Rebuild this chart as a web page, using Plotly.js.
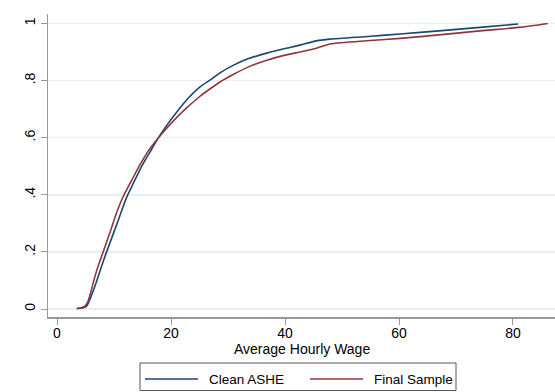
<!DOCTYPE html>
<html>
<head>
<meta charset="utf-8">
<script src="https://cdn.plot.ly/plotly-3.0.1.min.js"></script>
<style>html,body{margin:0;padding:0;background:#fff;}#chart{width:555px;height:392px;}</style>
</head>
<body>
<div id="chart"></div>
<script>
// Clean ASHE cumulative distribution
const asheWage = [3.6,4.5,5.2,5.7,6.1,7.0,8.0,8.7,10.0,11.0,12.2,13.5,15.0,16.5,17.8,19.5,21.3,23.0,25.1,27.1,28.6,30.9,33.5,36.8,40.0,42.6,45.5,47.9,55.0,60.2,67.0,74.2,80.9];
const asheCdf  = [0.002,0.004,0.01,0.03,0.05,0.1,0.16,0.2,0.27,0.325,0.39,0.445,0.505,0.556,0.6,0.65,0.697,0.738,0.778,0.805,0.827,0.853,0.876,0.896,0.912,0.924,0.939,0.945,0.955,0.963,0.974,0.986,0.998];
// Final Sample cumulative distribution
const finalWage = [3.45,4.2,4.9,5.4,5.8,6.4,7.0,8.1,9.5,10.5,11.6,13.0,14.5,16.0,17.8,20.0,22.5,25.1,27.0,28.6,30.9,33.5,36.8,40.0,42.6,45.5,47.9,55.0,60.2,67.0,74.2,80.9,86.1];
const finalCdf  = [0.002,0.004,0.01,0.025,0.05,0.095,0.137,0.2,0.28,0.34,0.393,0.447,0.503,0.553,0.6,0.65,0.7,0.745,0.773,0.795,0.821,0.847,0.871,0.889,0.90,0.913,0.928,0.94,0.9475,0.96,0.974,0.986,1.0];

const xTicks = [0,20,40,60,80];
const yTicks = [0,0.2,0.4,0.6,0.8,1];
const yTickLabels = ['0','.2','.4','.6','.8','1'];
const seriesNames = ['Clean ASHE','Final Sample'];
const seriesColors = ['#1a476f','#90353b'];
const xTitle = 'Average Hourly Wage';

const font = {family:'"Liberation Sans", Arial, sans-serif', size:14, color:'#000'};
const legendFont = {family:'"Liberation Sans", Arial, sans-serif', size:13.5, color:'#000'};

const traces = [
  {x:asheWage, y:asheCdf, name:seriesNames[0], type:'scatter', mode:'lines',
   line:{color:seriesColors[0], width:1.6, shape:'spline', smoothing:0.8}},
  {x:finalWage, y:finalCdf, name:seriesNames[1], type:'scatter', mode:'lines',
   line:{color:seriesColors[1], width:1.6, shape:'spline', smoothing:0.8}}
];

// plot-area geometry (pixels) for placing the hand-drawn legend and title
const M = {l:48, r:0, t:14, b:75};
const W = 555, H = 392;
const pw = W - M.l - M.r, ph = H - M.t - M.b;
const xp = px => (px - M.l) / pw;
const yp = py => (H - M.b - py) / ph;

const legendShapes = [
  {type:'rect', xref:'paper', yref:'paper', x0:xp(140), x1:xp(456), y0:yp(363), y1:yp(390.5),
   line:{color:'#555', width:1}, fillcolor:'#fff'},
  {type:'line', xref:'paper', yref:'paper', x0:xp(145), x1:xp(198), y0:yp(379), y1:yp(379),
   line:{color:seriesColors[0], width:1.6}},
  {type:'line', xref:'paper', yref:'paper', x0:xp(310), x1:xp(363), y0:yp(379), y1:yp(379),
   line:{color:seriesColors[1], width:1.6}}
];
const textNotes = [
  {xref:'paper', yref:'paper', x:xp(207), y:yp(379), xanchor:'left', yanchor:'middle',
   text:seriesNames[0], showarrow:false, font:legendFont},
  {xref:'paper', yref:'paper', x:xp(372), y:yp(379), xanchor:'left', yanchor:'middle',
   text:seriesNames[1], showarrow:false, font:legendFont},
  {xref:'paper', yref:'paper', x:0.5, y:yp(349), xanchor:'center', yanchor:'middle',
   text:xTitle, showarrow:false, font:font}
];

const layout = {
  width:W, height:H,
  margin:M,
  paper_bgcolor:'#fff', plot_bgcolor:'#fff',
  font:font,
  showlegend:false,
  xaxis:{
    range:[-1.58, 87.37], tickvals:xTicks, ticktext:xTicks.map(String),
    showgrid:false, zeroline:false, showline:true, linecolor:'#999', linewidth:1.5,
    ticks:'outside', ticklen:6, tickcolor:'#999', tickwidth:1,
    tickfont:font, ticklabelstandoff:-3
  },
  yaxis:{
    range:[-0.028, 1.033], tickvals:yTicks, ticktext:yTickLabels,
    showgrid:true, gridcolor:'#e6eef0', gridwidth:1.5, zeroline:false,
    showline:true, linecolor:'#999', linewidth:1.5,
    ticks:'outside', ticklen:6, tickcolor:'#999', tickwidth:1,
    tickangle:-90, tickfont:font
  },
  shapes:legendShapes,
  annotations:textNotes
};

Plotly.newPlot('chart', traces, layout, {displayModeBar:false, staticPlot:true});
</script>
</body>
</html>
